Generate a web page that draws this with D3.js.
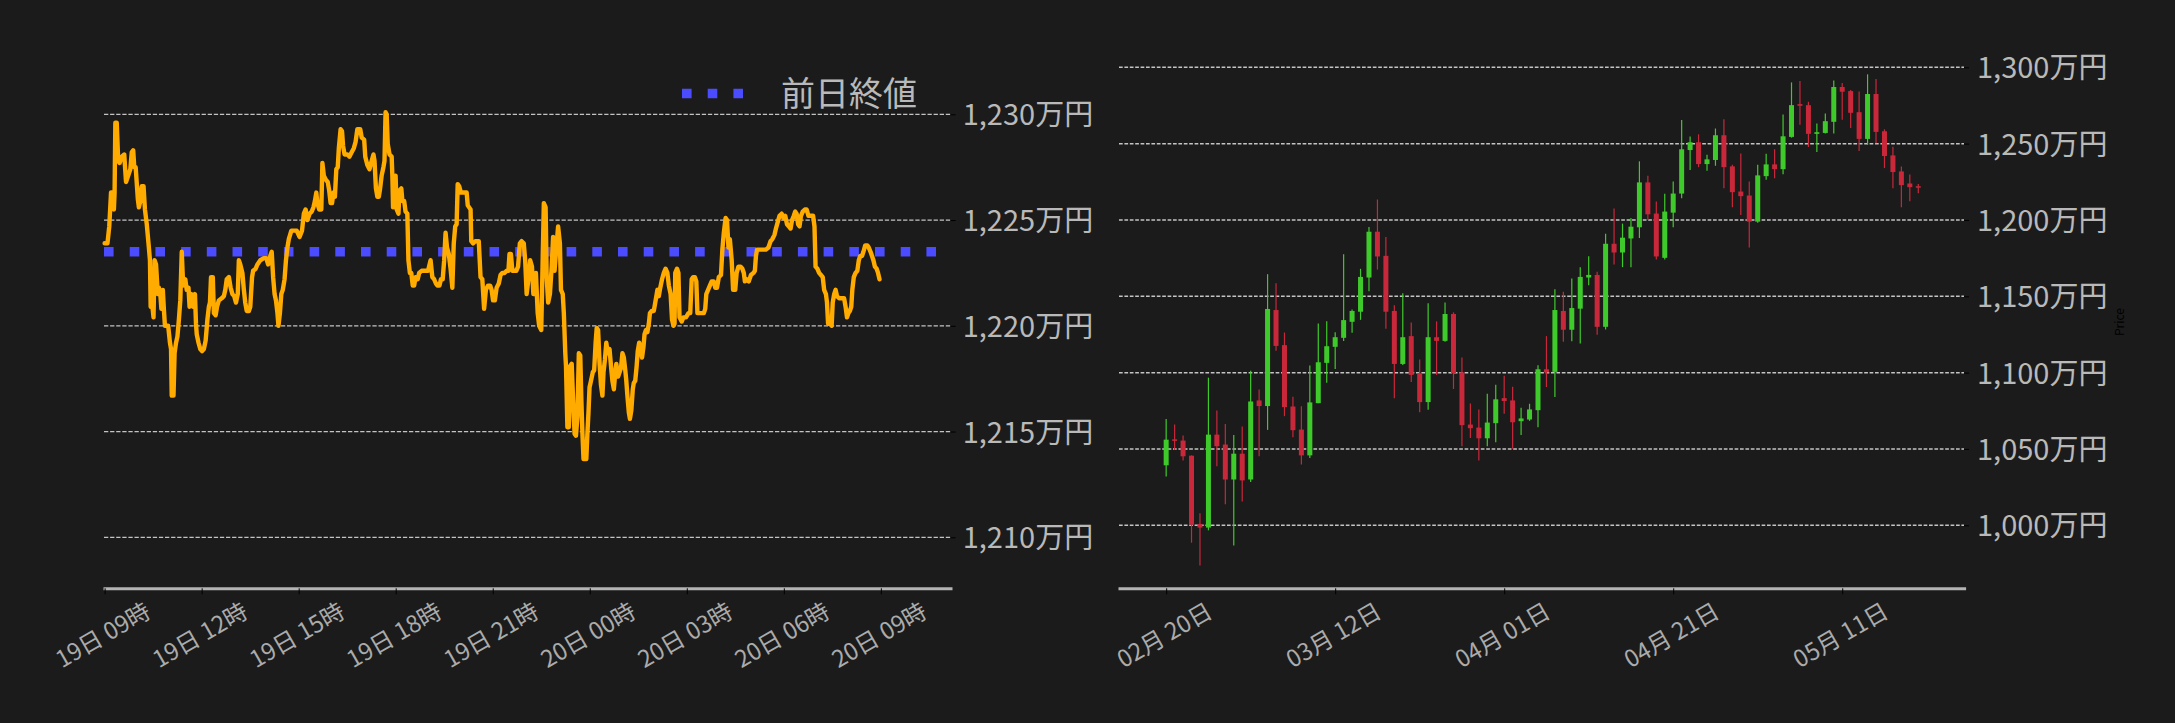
<!DOCTYPE html>
<html><head><meta charset="utf-8">
<script src="https://cdn.jsdelivr.net/npm/d3@7"></script>
<style>html,body{margin:0;padding:0;background:#1b1b1b;}svg{display:block;}</style>
</head><body>
<svg id="chart" width="2175" height="723"></svg>
<script>
// ---------- DATA ----------
// Intraday (minutes after 19日 09:00) and price in 万円
const intradayMinutes = [0,5.3,8.6,11.9,15.9,17.2,18.5,19.9,22.5,25.2,27.8,31.8,36.4,39.7,45.0,47.7,50.3,53.0,55.0,57.6,61.6,63.6,66.2,68.9,72.2,74.8,78.2,82.1,84.1,85.4,88.7,90.7,92.7,95.4,98.7,100.7,103.3,105.3,108.0,109.9,111.9,116.6,117.9,121.2,123.2,124.5,127.8,129.8,132.5,135.1,137.8,140.4,143.1,145.7,149.7,152.3,155.6,157.6,160.9,164.3,167.6,169.5,170.9,174.2,177.5,180.8,184.1,187.4,190.7,193.4,195.4,197.4,200.7,202.7,206.0,208.6,211.9,217.2,221.2,223.9,226.5,230.5,233.8,237.1,240.4,243.7,247.0,249.0,251.7,255.6,258.3,260.9,263.6,267.6,270.2,273.5,275.5,280.2,283.5,288.8,295.4,300.0,303.3,307.3,310.0,312.6,315.3,317.9,320.6,322.5,325.2,327.8,330.5,333.8,336.4,339.1,341.7,346.4,349.7,356.3,361.6,366.2,369.6,372.9,376.2,380.2,384.1,387.4,390.1,392.7,394.7,398.0,402.0,404.0,406.7,410.6,413.9,416.6,419.2,421.9,424.5,427.2,429.8,432.5,434.5,437.8,440.4,442.4,445.1,450.4,454.3,458.3,462.3,465.6,468.9,474.2,476.9,481.5,483.5,487.4,491.4,495.4,498.7,500.7,503.3,506.0,508.6,510.6,513.9,517.2,519.2,521.2,523.2,525.2,528.5,532.5,533.8,535.1,537.1,539.8,541.8,545.1,547.1,550.4,552.4,555.7,558.3,561.6,563.6,566.3,568.9,571.6,574.2,576.9,580.8,583.5,588.1,594.7,600.0,604.7,608.0,611.3,614.6,617.3,621.2,623.9,627.2,629.9,632.5,635.2,638.5,641.8,645.1,647.7,650.4,653.0,655.0,657.7,661.0,665.6,668.9,671.6,673.6,676.2,678.9,680.2,683.5,687.5,694.1,697.4,700.7,704.0,707.3,711.3,715.3,717.9,720.6,723.9,727.2,731.2,734.5,737.8,741.8,745.8,749.1,751.1,753.7,756.4,763.7,767.0,770.3,773.6,777.6,780.2,782.9,786.2,789.5,792.8,795.4,798.1,800.1,803.4,806.1,810.0,814.8,818.1,820.1,822.8,826.1,829.4,832.0,834.7,838.0,841.3,844.6,846.6,849.9,851.9,854.6,855.9,858.5,861.2,863.8,866.5,869.1,871.8,874.4,877.1,879.7,882.4,884.4,886.4,888.4,893.6,895.6,897.6,899.6,902.3,905.6,908.2,910.9,912.9,915.5,918.2,920.8,923.5,925.5,928.1,930.7,933.4,936.7,939.4,942.0,944.7,947.3,949.3,952.6,955.3,957.9,960.6,963.2,965.9,967.8,969.8,972.5,974.5,977.1,979.8,981.7,984.4,987.0,989.0,991.7,994.3,997.0,999.6,1001.6,1004.3,1006.9,1009.6,1011.6,1014.9,1018.8,1022.2,1025.5,1028.1,1030.8,1034.1,1037.4,1040.7,1044.0,1046.7,1050.0,1052.6,1055.3,1057.3,1058.6,1061.9,1064.5,1066.5,1070.5,1073.8,1078.5,1083.1,1086.4,1089.1,1091.7,1095.0,1097.7,1099.7,1103.6,1107.6,1111.6,1114.2,1116.2,1119.5,1122.8,1126.2,1130.1,1132.8,1136.1,1139.4,1143.4,1146.0,1148.7,1152.0,1154.6,1157.3,1159.9,1163.3,1165.9,1169.9,1172.5,1175.8,1179.8,1183.1,1185.8,1187.8,1191.1,1195.0,1199.0,1203.7,1206.3,1208.3,1210.3,1214.9,1220.2,1226.8,1231.5,1235.4,1238.8,1242.7,1245.4,1248.7,1252.0,1256.0,1259.3,1262.6,1265.9,1269.2,1272.5,1275.2,1278.5,1281.2,1283.8,1286.5,1289.1,1291.8,1295.1,1299.1,1302.4,1305.7,1309.6,1314.3,1316.9,1318.9,1322.2,1325.5,1328.9,1332.2,1334.8,1338.1,1340.1,1342.1,1346.1,1348.7,1350.7,1353.4,1356.0,1358.7,1362.6,1367.9,1371.9,1374.6,1377.2,1379.9,1382.5,1385.1,1387.1,1389.8,1393.1,1396.4,1399.1,1401.7,1405.0,1407.7,1411.0,1415.0,1417.6,1420.9,1423.6,1426.2,1428.9,1432.2,1434.8,1437.5];
const intradayValues = [1223.9,1223.9,1224.7,1226.3,1226.3,1225.5,1226.3,1229.6,1229.6,1227.8,1227.7,1228.0,1228.1,1226.8,1227.2,1227.4,1228.2,1228.3,1227.5,1227.5,1226.0,1225.6,1225.9,1226.6,1226.6,1225.5,1224.8,1223.7,1223.1,1220.9,1220.9,1220.4,1223.1,1222.9,1221.5,1221.8,1221.5,1220.8,1221.7,1220.8,1220.0,1220.0,1220.0,1219.2,1218.9,1216.7,1216.7,1218.7,1219.2,1219.5,1220.3,1221.2,1223.5,1221.9,1222.2,1221.7,1221.8,1220.9,1221.5,1220.9,1221.5,1220.1,1219.6,1219.2,1218.9,1218.8,1218.9,1219.3,1220.3,1220.9,1221.1,1222.3,1222.3,1220.6,1220.5,1220.9,1221.2,1221.3,1221.4,1221.7,1222.2,1222.3,1221.8,1221.5,1221.4,1221.1,1221.5,1223.1,1222.9,1222.5,1221.7,1221.1,1220.7,1220.7,1220.9,1222.3,1222.6,1222.7,1222.9,1223.1,1223.2,1223.2,1222.9,1223.3,1223.5,1222.3,1221.5,1221.2,1220.6,1220.0,1220.6,1221.5,1221.7,1222.2,1223.1,1223.7,1224.1,1224.5,1224.5,1224.5,1224.2,1224.5,1225.3,1225.5,1225.0,1225.3,1225.4,1225.6,1225.9,1226.3,1225.8,1225.5,1225.5,1227.7,1227.1,1226.9,1226.8,1226.4,1225.8,1225.8,1226.3,1226.1,1227.4,1227.5,1228.4,1229.3,1229.2,1228.5,1228.1,1228.1,1228.0,1228.2,1228.4,1228.7,1229.3,1229.3,1228.9,1228.8,1228.0,1227.6,1227.4,1227.8,1228.1,1227.8,1226.5,1226.1,1226.1,1226.4,1227.1,1227.5,1227.8,1230.1,1230.0,1228.6,1228.1,1228.0,1227.1,1225.6,1226.6,1227.1,1225.5,1225.3,1226.4,1226.5,1225.9,1225.9,1225.4,1225.3,1223.1,1222.5,1222.5,1221.9,1221.9,1222.3,1222.2,1222.5,1222.6,1222.6,1222.6,1223.1,1222.3,1222.2,1222.0,1221.9,1221.9,1222.2,1222.2,1223.1,1224.4,1223.7,1223.4,1222.7,1221.8,1223.9,1224.7,1224.8,1226.7,1226.6,1226.3,1226.3,1226.3,1226.3,1225.7,1225.6,1225.5,1224.0,1223.9,1224.0,1224.0,1222.3,1222.2,1220.8,1221.7,1221.9,1221.9,1221.7,1221.2,1221.2,1221.8,1222.0,1222.4,1222.5,1222.5,1222.6,1222.6,1223.4,1223.4,1222.6,1222.6,1222.8,1223.9,1224.0,1223.9,1223.1,1221.5,1222.2,1223.1,1222.8,1221.5,1221.5,1222.5,1220.6,1220.0,1219.8,1225.8,1225.6,1222.3,1221.1,1221.5,1222.8,1224.2,1222.6,1223.7,1224.7,1223.9,1221.7,1221.5,1220.6,1218.7,1218.1,1215.2,1215.2,1218.1,1218.2,1216.5,1214.9,1214.8,1215.7,1218.7,1218.6,1216.5,1214.9,1213.7,1213.7,1214.9,1215.9,1217.1,1217.4,1217.8,1217.9,1219.2,1219.9,1219.8,1218.2,1217.2,1216.7,1217.8,1218.4,1219.2,1218.7,1218.9,1218.1,1217.4,1217.0,1217.8,1218.2,1217.6,1217.8,1218.0,1218.7,1218.5,1217.9,1217.4,1216.7,1215.9,1215.6,1216.0,1217.0,1217.3,1217.4,1218.1,1218.8,1219.2,1218.9,1218.5,1219.0,1219.6,1219.8,1219.7,1220.1,1220.6,1220.7,1220.7,1221.2,1221.7,1221.4,1221.8,1222.2,1222.5,1222.7,1222.5,1221.9,1221.5,1220.3,1220.0,1220.1,1222.5,1222.7,1222.5,1220.4,1220.2,1220.4,1220.4,1220.6,1220.6,1222.2,1222.3,1222.3,1222.1,1220.6,1220.6,1220.6,1220.6,1220.8,1221.5,1221.7,1221.9,1222.1,1222.1,1221.8,1221.8,1222.3,1222.4,1223.6,1224.4,1225.1,1225.0,1223.7,1224.1,1223.1,1221.7,1221.7,1222.5,1222.8,1222.8,1222.7,1222.5,1222.1,1222.2,1222.1,1222.4,1222.5,1222.6,1223.3,1223.6,1223.6,1223.6,1223.6,1223.7,1224.0,1224.1,1224.3,1224.6,1224.9,1225.2,1225.3,1225.1,1225.2,1224.8,1224.7,1224.6,1225.0,1225.2,1225.4,1225.3,1224.8,1224.7,1225.2,1225.4,1225.5,1225.5,1225.2,1225.2,1225.2,1224.7,1222.8,1222.7,1222.5,1222.4,1222.3,1221.7,1221.5,1221.1,1220.1,1220.1,1220.0,1221.1,1221.5,1221.7,1221.4,1221.3,1221.3,1221.3,1220.9,1220.4,1220.6,1220.7,1220.9,1221.7,1222.3,1222.5,1222.6,1223.1,1223.3,1223.3,1223.5,1223.8,1223.8,1223.7,1223.5,1223.3,1223.1,1222.8,1222.7,1222.5,1222.2];
const previousClose = 1223.5;
const legendLabel = "前日終値";
const intradayYTicks = [1210, 1215, 1220, 1225, 1230];
const intradayTickHours = [0, 3, 6, 9, 12, 15, 18, 21, 24];

// Daily candles (start 2025-02-20), 万円
const candleOpen  = [1039.3,1056.3,1055.5,1045.6,1000.9,998.5,1059.4,1052.9,1030.0,1046.9,1030.0,1081.8,1078.1,1141.0,1118.0,1077.8,1062.7,1045.8,1080.0,1106.4,1116.9,1122.8,1133.3,1139.9,1162.3,1192.3,1176.5,1140.4,1105.7,1123.9,1099.6,1080.7,1123.2,1120.8,1138.4,1100.2,1066.0,1064.0,1057.0,1066.9,1083.3,1081.8,1068.2,1069.3,1075.4,1102.2,1100.5,1140.4,1128.1,1141.9,1162.3,1164.0,1130.0,1184.4,1178.7,1187.9,1195.2,1224.6,1204.2,1175.2,1204.8,1217.3,1245.8,1250.9,1236.6,1239.3,1255.5,1235.1,1218.6,1216.0,1198.9,1228.7,1236.4,1233.3,1254.4,1275.9,1275.2,1256.4,1257.0,1264.3,1287.1,1284.4,1270.6,1253.1,1282.5,1258.1,1242.3,1231.8,1223.9,1222.1];
const candleHigh  = [1069.7,1066.0,1058.8,1045.8,1007.9,1096.7,1075.2,1066.4,1059.2,1064.7,1101.3,1089.0,1164.5,1158.6,1126.3,1084.2,1077.9,1104.6,1132.2,1133.6,1126.5,1177.6,1141.4,1168.0,1195.4,1213.4,1188.8,1144.1,1152.0,1132.9,1108.6,1145.4,1133.6,1146.0,1139.5,1109.9,1079.8,1075.9,1086.2,1092.1,1098.0,1090.8,1077.0,1079.6,1104.8,1123.9,1154.6,1152.9,1161.6,1169.1,1176.3,1166.0,1191.0,1207.5,1197.6,1201.3,1238.4,1228.9,1212.1,1217.1,1225.2,1265.4,1254.6,1256.1,1242.8,1259.9,1266.0,1236.2,1243.6,1225.2,1236.2,1243.4,1246.3,1269.1,1290.1,1291.0,1277.4,1263.2,1269.7,1291.4,1289.7,1285.1,1284.2,1295.4,1292.3,1259.4,1248.0,1235.1,1229.8,1223.5];
const candleLow   = [1032.0,1049.3,1042.5,988.6,973.7,996.7,1038.6,1013.8,986.8,1015.6,1028.3,1045.2,1062.5,1114.3,1071.5,1057.7,1039.9,1044.1,1080.0,1093.4,1102.4,1120.8,1126.1,1134.6,1153.3,1167.5,1128.7,1083.3,1105.0,1093.9,1074.1,1075.7,1098.5,1120.2,1089.3,1051.8,1057.2,1042.5,1051.8,1054.4,1073.0,1050.2,1059.2,1068.4,1064.3,1090.6,1084.1,1120.2,1120.6,1119.1,1157.2,1124.8,1128.3,1170.8,1169.1,1169.1,1188.2,1200.0,1174.1,1174.1,1195.2,1214.3,1232.7,1234.6,1232.2,1235.5,1220.8,1208.3,1203.3,1182.0,1198.2,1226.3,1227.4,1230.0,1253.9,1262.3,1247.8,1244.5,1256.6,1256.6,1265.6,1260.3,1245.2,1249.3,1250.2,1234.0,1220.8,1208.3,1212.3,1217.5];
const candleClose = [1056.1,1055.7,1045.2,1000.4,998.5,1059.4,1051.8,1030.0,1046.9,1029.4,1081.1,1078.1,1141.7,1117.5,1077.4,1062.3,1045.8,1080.5,1106.8,1117.3,1123.2,1134.4,1140.4,1162.7,1192.3,1176.1,1139.9,1105.7,1123.2,1098.5,1080.7,1123.2,1120.8,1138.4,1099.6,1065.6,1063.6,1057.0,1067.3,1082.5,1081.4,1067.5,1070.0,1075.9,1102.2,1100.2,1141.0,1128.1,1142.3,1162.7,1164.0,1130.0,1184.4,1178.7,1188.4,1195.6,1224.6,1203.7,1176.1,1205.5,1217.3,1246.3,1250.9,1236.6,1239.7,1255.5,1234.6,1218.2,1215.6,1198.9,1229.2,1236.4,1233.3,1254.8,1275.2,1274.8,1256.4,1257.5,1264.7,1287.1,1284.0,1270.2,1253.1,1282.5,1257.7,1241.9,1231.4,1222.8,1221.5,1221.5];
const dailyYTicks = [1000, 1050, 1100, 1150, 1200, 1250, 1300];
const dailyTickEvery = 20; // days between date ticks
const yAxisLabel = "Price";

// ---------- STYLE ----------
const BG = "#1b1b1b", TXT = "#b9b9b9", GRID = "#c4c4c4";
const LINE = "#ffab00", DOT = "#4b4bff", UP = "#3fca2b", DOWN = "#c9283a";
const FONT = '"Noto Sans CJK JP","Noto Sans",sans-serif';
const svg = d3.select("#chart");
svg.append("rect").attr("width", 2175).attr("height", 723).attr("fill", BG);
const fmtYen = d => d3.format(",")(d) + "万円";

// ---------- LEFT: intraday ----------
const t0 = new Date(2025, 4, 19, 9, 0);
const xL = d3.scaleTime()
  .domain([d3.timeMinute.offset(t0, -2.4), d3.timeMinute.offset(t0, 1572)])
  .range([103, 952]);
const yL = d3.scaleLinear().domain([1210, 1230]).range([537.3, 114.3]);
const axisBottomY = 588.3;

const gL = svg.append("g");
gL.append("g").selectAll("line").data(intradayYTicks).join("line")
  .attr("x1", 104).attr("x2", 950.7)
  .attr("y1", d => yL(d)).attr("y2", d => yL(d))
  .attr("stroke", GRID).attr("stroke-width", 1.2).attr("stroke-dasharray", "4.3 1.8");

const yAxisL = d3.axisRight(yL).tickValues(intradayYTicks).tickFormat(fmtYen)
  .tickSizeInner(5).tickSizeOuter(0).tickPadding(7);
const gyL = gL.append("g").attr("transform", "translate(950.7,0)").call(yAxisL);
gyL.select(".domain").remove();
gyL.selectAll(".tick line").attr("stroke", "#000");
gyL.selectAll(".tick text").attr("fill", TXT).attr("font-size", 29).attr("font-family", FONT).attr("dy", "0.36em");

// previous close dotted line
gL.append("line").attr("x1", 104).attr("x2", 951)
  .attr("y1", yL(previousClose)).attr("y2", yL(previousClose))
  .attr("stroke", DOT).attr("stroke-width", 9.6).attr("stroke-dasharray", "9.6 16.1");

// price line
const pts = intradayMinutes.map((m, i) => [d3.timeMinute.offset(t0, 0).getTime() + m * 60000, intradayValues[i]]);
gL.append("path").datum(pts)
  .attr("d", d3.line().x(d => xL(new Date(d[0]))).y(d => yL(d[1])))
  .attr("fill", "none").attr("stroke", LINE).attr("stroke-width", 4.4)
  .attr("stroke-linejoin", "round").attr("stroke-linecap", "round");

// x axis
const xTicksL = intradayTickHours.map(h => d3.timeHour.offset(t0, h));
const xAxisL = d3.axisBottom(xL).tickValues(xTicksL).tickFormat(d3.timeFormat("%d日 %H時"))
  .tickSizeInner(6).tickSizeOuter(0);
const gxL = gL.append("g").attr("transform", `translate(0,${axisBottomY})`).call(xAxisL);
gxL.select(".domain").attr("stroke", "#b4b4b4").attr("stroke-width", 3);
gxL.selectAll(".tick line").attr("stroke", "#000");
gxL.selectAll(".tick text").attr("fill", "#ababab").attr("font-size", 23.5).attr("font-family", FONT)
  .attr("y", 0).attr("dy", "0.35em").attr("text-anchor", "middle")
  .attr("transform", "translate(-2,47) rotate(-30)");

// legend
const legY = 93.5;
gL.append("line").attr("x1", 682).attr("x2", 743.5).attr("y1", legY).attr("y2", legY)
  .attr("stroke", DOT).attr("stroke-width", 9.6).attr("stroke-dasharray", "9.6 16.1");
gL.append("text").attr("x", 781).attr("y", legY).attr("dy", "0.36em")
  .attr("fill", TXT).attr("font-size", 34).attr("font-family", FONT).text(legendLabel);

// ---------- RIGHT: daily candles ----------
const d0 = new Date(2025, 1, 20);
const dates = d3.range(candleOpen.length).map(i => d3.timeDay.offset(d0, i));
const candles = dates.map((d, i) => ({date: d, o: candleOpen[i], h: candleHigh[i], l: candleLow[i], c: candleClose[i]}));
const dayMs = 86400000;
const xR = d3.scaleTime()
  .domain([new Date(d0.getTime() - 5.7 * dayMs), new Date(d0.getTime() + 94.6 * dayMs)])
  .range([1118, 1965.6]);
const yR = d3.scaleLinear().domain([1000, 1300]).range([525.3, 67.3]);

const gR = svg.append("g");
gR.append("g").selectAll("line").data(dailyYTicks).join("line")
  .attr("x1", 1119).attr("x2", 1964)
  .attr("y1", d => yR(d)).attr("y2", d => yR(d))
  .attr("stroke", GRID).attr("stroke-width", 1.5).attr("stroke-dasharray", "3.7 1.7");

const yAxisR = d3.axisRight(yR).tickValues(dailyYTicks).tickFormat(fmtYen)
  .tickSizeInner(5).tickSizeOuter(0).tickPadding(8);
const gyR = gR.append("g").attr("transform", "translate(1964,0)").call(yAxisR);
gyR.select(".domain").remove();
gyR.selectAll(".tick line").attr("stroke", "#000");
gyR.selectAll(".tick text").attr("fill", TXT).attr("font-size", 29).attr("font-family", FONT).attr("dy", "0.36em");

const bodyW = 5;
const cg = gR.append("g").selectAll("g").data(candles).join("g");
cg.append("line")
  .attr("x1", d => xR(d.date)).attr("x2", d => xR(d.date))
  .attr("y1", d => yR(d.h)).attr("y2", d => yR(d.l))
  .attr("stroke", d => d.c >= d.o ? UP : DOWN).attr("stroke-width", 1.2);
cg.append("rect")
  .attr("x", d => xR(d.date) - bodyW / 2).attr("width", bodyW)
  .attr("y", d => yR(Math.max(d.o, d.c)))
  .attr("height", d => Math.max(1.5, Math.abs(yR(d.o) - yR(d.c))))
  .attr("fill", d => d.c >= d.o ? UP : DOWN);

const xTicksR = dates.filter((d, i) => i % dailyTickEvery === 0);
const xAxisR = d3.axisBottom(xR).tickValues(xTicksR).tickFormat(d3.timeFormat("%m月 %d日"))
  .tickSizeInner(6).tickSizeOuter(0);
const gxR = gR.append("g").attr("transform", `translate(0,${axisBottomY})`).call(xAxisR);
gxR.select(".domain").attr("stroke", "#b4b4b4").attr("stroke-width", 3);
gxR.selectAll(".tick line").attr("stroke", "#000");
gxR.selectAll(".tick text").attr("fill", "#ababab").attr("font-size", 23.5).attr("font-family", FONT)
  .attr("y", 0).attr("dy", "0.35em").attr("text-anchor", "middle")
  .attr("transform", "translate(-2,47) rotate(-30)");

gR.append("text").attr("transform", "translate(2120,322) rotate(-90)")
  .attr("text-anchor", "middle").attr("dy", "0.35em")
  .attr("fill", "#000").attr("font-size", 12).attr("font-family", FONT).text(yAxisLabel);
</script>
</body></html>
